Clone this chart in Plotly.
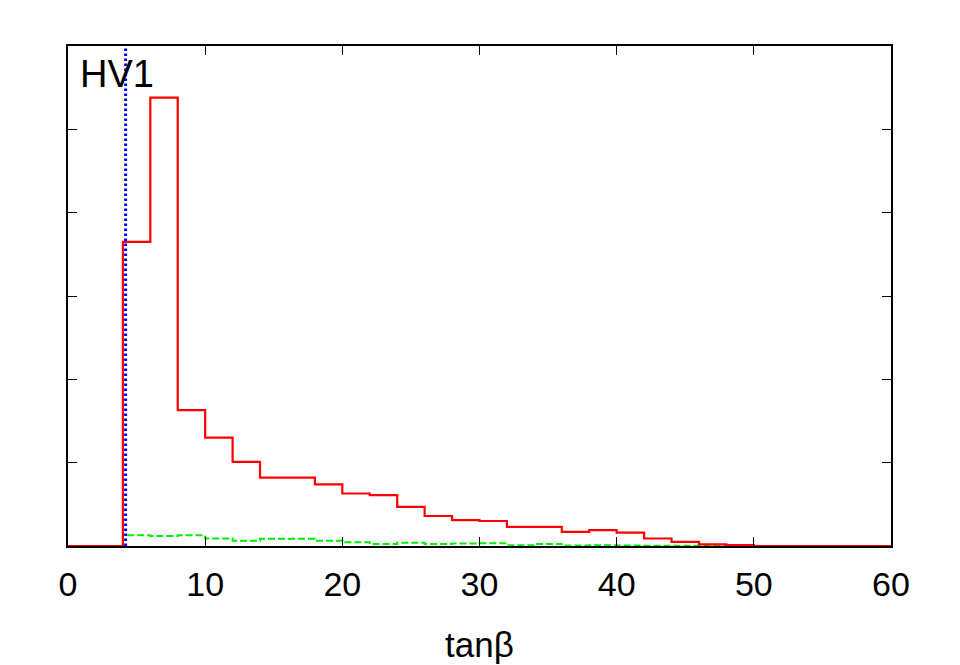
import plotly.graph_objects as go

bin_edges = [0, 2, 4, 6, 8, 10, 12, 14, 16, 18, 20, 22, 24, 26, 28, 30,
             32, 34, 36, 38, 40, 42, 44, 46, 48, 50, 52, 54, 56, 58, 60]
red_values = [0, 0, 3.65, 5.38, 1.63, 1.30, 1.01, 0.82, 0.82, 0.74, 0.63, 0.61,
              0.47, 0.36, 0.31, 0.30, 0.23, 0.23, 0.17, 0.19, 0.16, 0.09, 0.05,
              0.02, 0.01, 0, 0, 0, 0, 0]
green_values = [0, 0, 0.13, 0.12, 0.13, 0.09, 0.064, 0.088, 0.088, 0.064, 0.044,
                0.024, 0.04, 0.024, 0.03, 0.032, 0.008, 0.024, 0.005, 0.01, 0.005,
                0.004, 0.003, 0.002, 0, 0, 0, 0, 0, 0]
marker_x = 4.2
x_ticks = [0, 10, 20, 30, 40, 50, 60]
y_ticks = [0, 1, 2, 3, 4, 5, 6]

fig = go.Figure()
fig.add_trace(go.Scatter(x=bin_edges, y=green_values + [green_values[-1]],
                         mode="lines", line=dict(color="#00ee00", width=2, dash="7px,3px", shape="hv"),
                         showlegend=False, hoverinfo="skip"))
fig.add_trace(go.Scatter(x=bin_edges, y=red_values + [red_values[-1]],
                         mode="lines", line=dict(color="#ff0000", width=2.2, shape="hv"),
                         showlegend=False, hoverinfo="skip"))
fig.add_trace(go.Scatter(x=[marker_x, marker_x], y=[0, 6],
                         mode="lines", line=dict(color="#0000ff", width=3, dash="2.5px,2.5px"),
                         showlegend=False, hoverinfo="skip"))

fig.add_annotation(text="HV1", xref="paper", yref="paper", x=0.012, y=0.945,
                   xanchor="left", yanchor="middle", showarrow=False,
                   font=dict(size=38, color="black", family="Liberation Sans, Arial, sans-serif"))
fig.add_annotation(text="tanβ", xref="paper", yref="paper", x=0.5, y=-0.197,
                   xanchor="center", yanchor="middle", showarrow=False, borderpad=0,
                   font=dict(size=35, color="black", family="Liberation Sans, Arial, sans-serif"))

fig.update_layout(
    width=952, height=657,
    margin=dict(l=60, r=69, t=38, b=119),
    paper_bgcolor="white", plot_bgcolor="white",
    font=dict(family="Liberation Sans, Arial, sans-serif", color="black"),
    xaxis=dict(range=[0, 60], tickvals=x_ticks, ticks="inside", ticklen=9,
               tickcolor="black", tickwidth=1, showgrid=False, zeroline=False,
               showline=True, linecolor="black", linewidth=2, mirror="allticks",
               tickfont=dict(size=34), ticklabelstandoff=7, automargin=False),
    yaxis=dict(range=[0, 6], tickvals=y_ticks, ticks="inside", ticklen=9,
               tickcolor="black", tickwidth=1, showgrid=False, zeroline=False,
               showline=True, linecolor="black", linewidth=2, mirror="allticks",
               showticklabels=False, automargin=False),
)

fig.write_html("out.html")
